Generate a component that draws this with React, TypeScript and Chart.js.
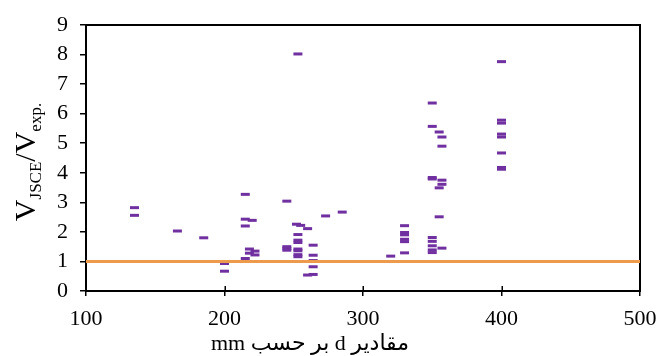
import React, { useEffect, useRef } from "react";
import { Chart, registerables } from "chart.js";

Chart.register(...registerables);

// d values (mm) and V_JSCE / V_exp ratios
const dValues: number[] = [
  135, 135,
  166,
  185,
  200, 200,
  215, 215, 215, 215,
  220, 218, 222, 218, 222,
  245, 245, 245, 245,
  253, 252, 255, 260, 253, 253, 253, 253, 253, 253, 253,
  264, 264, 264, 264, 264, 260,
  273,
  285,
  320,
  330, 330, 330, 330, 330, 330,
  350, 350, 350, 350, 350, 350, 350, 350, 350,
  355, 355, 355,
  357, 357, 357, 357, 357,
  400, 400, 400, 400, 400, 400, 400, 400,
];
const ratioValues: number[] = [
  2.82, 2.56,
  2.03,
  1.8,
  0.93, 0.67,
  3.27, 2.43, 2.2, 1.1,
  2.39, 1.42, 1.35, 1.28, 1.22,
  3.04, 1.5, 1.44, 1.38,
  8.02, 2.26, 2.22, 2.11, 1.91, 1.72, 1.64, 1.42, 1.36, 1.23, 1.16,
  1.55, 1.21, 1.03, 0.82, 0.56, 0.54,
  2.54,
  2.67,
  1.18,
  2.21, 1.98, 1.9, 1.75, 1.67, 1.29,
  6.36, 5.57, 3.84, 3.79, 1.81, 1.68, 1.53, 1.39, 1.3,
  5.38, 3.49, 2.51,
  5.21, 4.9, 3.75, 3.61, 1.45,
  7.76, 5.78, 5.68, 5.31, 5.21, 4.67, 4.18, 4.12,
];
const refLineX: number[] = [100, 500];
const refLineY: number[] = [1, 1];
const xTicks: number[] = [100, 200, 300, 400, 500];
const xTitle = "مقادیر d بر حسب mm";

const SERIF = "'Liberation Serif', 'Times New Roman', 'DejaVu Sans', serif";

const framePlugin = {
  id: "framePlugin",
  afterDatasetsDraw(chart: any) {
    const ctx = chart.ctx as CanvasRenderingContext2D;
    const area = chart.chartArea;
    const xs = chart.scales.x;
    ctx.save();
    ctx.strokeStyle = "#000000";
    ctx.lineWidth = 1.5;
    ctx.beginPath();
    xTicks.forEach((v) => {
      const px = Math.round(xs.getPixelForValue(v)) + 0.25;
      ctx.moveTo(px, area.bottom - 5);
      ctx.lineTo(px, area.bottom);
    });
    ctx.stroke();
    ctx.restore();
  },
  afterDraw(chart: any) {
    const ctx = chart.ctx as CanvasRenderingContext2D;
    ctx.save();
    ctx.fillStyle = "#000";
    // x title (RTL)
    ctx.font = `22px ${SERIF}`;
    (ctx as any).direction = "rtl";
    ctx.textAlign = "center";
    ctx.textBaseline = "alphabetic";
    ctx.fillText(xTitle, 310, 350);
    (ctx as any).direction = "ltr";
    // y title with subscripts
    const parts = [
      { t: "V", big: true },
      { t: "JSCE", big: false },
      { t: "/V", big: true },
      { t: "exp.", big: false },
    ];
    const bigFont = `30px ${SERIF}`;
    const smallFont = `17px ${SERIF}`;
    let total = 0;
    const widths = parts.map((p) => {
      ctx.font = p.big ? bigFont : smallFont;
      const w = ctx.measureText(p.t).width;
      total += w;
      return w;
    });
    ctx.translate(35, 162);
    ctx.rotate(-Math.PI / 2);
    ctx.textAlign = "left";
    let cx = -total / 2;
    parts.forEach((p, i) => {
      ctx.font = p.big ? bigFont : smallFont;
      ctx.fillText(p.t, cx, p.big ? 0 : 6);
      cx += widths[i];
    });
    ctx.restore();
  },
};

export default function App() {
  const ref = useRef<HTMLCanvasElement | null>(null);
  useEffect(() => {
    document.body.style.margin = "0";
    if (!ref.current) return;
    const points = dValues.map((d, i) => ({ x: d, y: ratioValues[i] }));
    const line = refLineX.map((x, i) => ({ x, y: refLineY[i] }));
    const chart = new Chart(ref.current, {
      type: "scatter",
      data: {
        datasets: [
          {
            type: "line",
            data: line,
            borderColor: "#EE9A4D",
            borderWidth: 3,
            pointRadius: 0,
            fill: false,
            order: 1,
          } as any,
          {
            data: points,
            pointStyle: "line",
            pointRadius: 4.5,
            pointBorderWidth: 3,
            borderColor: "#7030A0",
            backgroundColor: "#7030A0",
            pointBorderColor: "#7030A0",
            order: 2,
          } as any,
        ],
      },
      options: {
        responsive: false,
        animation: false,
        layout: { padding: { top: 25, right: 17, left: 0, bottom: 0 } },
        plugins: {
          legend: { display: false },
          tooltip: { enabled: false },
          title: { display: false },
        },
        scales: {
          x: {
            type: "linear",
            position: "bottom",
            min: 100,
            max: 500,
            afterFit: (s: any) => {
              s.height = 65;
              s.paddingRight = 0;
              s.paddingLeft = 0;
            },
            afterBuildTicks: (s: any) => {
              s.ticks = xTicks.map((v) => ({ value: v }));
            },
            ticks: {
              color: "#000",
              font: { family: SERIF, size: 22 },
              padding: 10,
              maxRotation: 0,
            },
            grid: {
              display: true,
              drawOnChartArea: false,
              drawTicks: true,
              tickLength: 5,
              color: "#000",
              lineWidth: 1.5,
            },
            border: { display: true, color: "#000", width: 2 },
          },
          xTop: {
            type: "linear",
            position: "top",
            min: 100,
            max: 500,
            afterFit: (s: any) => {
              s.height = 0;
              s.paddingRight = 0;
              s.paddingLeft = 0;
            },
            ticks: { display: false },
            grid: { display: false, drawTicks: false },
            border: { display: true, color: "#000", width: 2 },
          },
          y: {
            position: "left",
            min: 0,
            max: 9,
            afterFit: (s: any) => {
              s.width = 86;
              s.paddingTop = 0;
              s.paddingBottom = 0;
            },
            ticks: {
              stepSize: 1,
              color: "#000",
              font: { family: SERIF, size: 22 },
              padding: 12,
            },
            grid: {
              display: true,
              drawOnChartArea: false,
              drawTicks: true,
              tickLength: 6,
              color: "#000",
              lineWidth: 1.5,
            },
            border: { display: true, color: "#000", width: 2 },
          },
          yRight: {
            position: "right",
            min: 0,
            max: 9,
            afterFit: (s: any) => {
              s.width = 0;
              s.paddingTop = 0;
              s.paddingBottom = 0;
            },
            ticks: { display: false },
            grid: { display: false, drawTicks: false },
            border: { display: true, color: "#000", width: 2 },
          },
        },
      },
      plugins: [framePlugin],
    });
    return () => chart.destroy();
  }, []);
  return (
    <div style={{ width: 657, height: 356 }}>
      <canvas ref={ref} width={657} height={356} style={{ display: "block" }} />
    </div>
  );
}
